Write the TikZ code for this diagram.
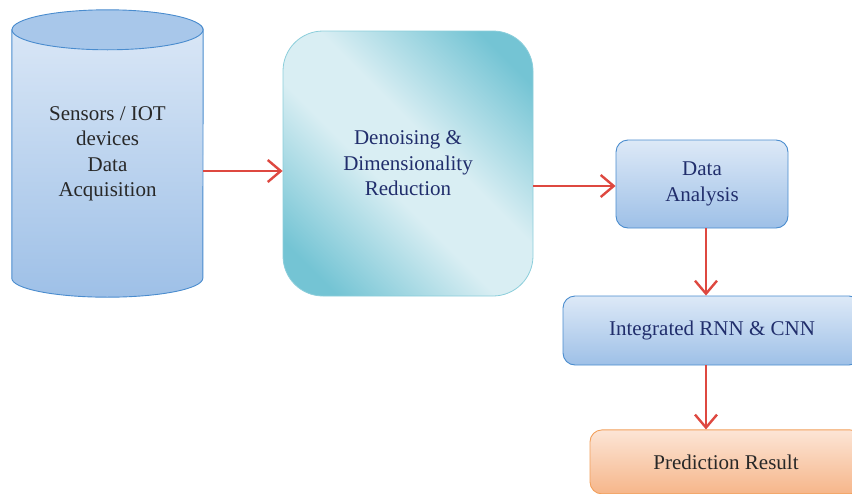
\documentclass[tikz,border=0pt]{standalone}
\usepackage{fontspec}
\setmainfont{Liberation Serif}
\usepackage{tikz}
\usetikzlibrary{positioning,arrows.meta,backgrounds}

\definecolor{flowred}{RGB}{222,72,64}
\definecolor{navytext}{RGB}{33,46,108}
\definecolor{darktext}{RGB}{40,40,40}
\definecolor{blueedge}{RGB}{74,140,206}
\definecolor{bluetop}{RGB}{221,233,247}
\definecolor{bluebot}{RGB}{158,192,231}
\definecolor{bluecap}{RGB}{168,199,234}
\definecolor{tealedge}{RGB}{140,206,219}
\definecolor{tealdark}{RGB}{116,196,212}
\definecolor{teallight}{RGB}{217,238,243}
\definecolor{orangeedge}{RGB}{242,160,92}
\definecolor{orangetop}{RGB}{252,229,214}
\definecolor{orangebot}{RGB}{246,182,138}

\pgfdeclarehorizontalshading{tealband}{100bp}{color(0bp)=(tealdark); color(22bp)=(tealdark); color(44bp)=(teallight); color(56bp)=(teallight); color(78bp)=(tealdark); color(100bp)=(tealdark)}

\tikzset{
  lbl/.style={font=\fontsize{21}{25.5}\selectfont, align=center},
  cylbody/.style={lbl, text=darktext, minimum width=191pt, minimum height=248pt, inner sep=0pt},
  tealbox/.style={lbl, text=navytext, draw=tealedge, line width=0.8pt, shading=tealband, shading angle=45, rounded corners=40pt, inner sep=0pt},
  bluebox/.style={lbl, text=navytext, draw=blueedge, line width=0.9pt, top color=bluetop, bottom color=bluebot, rounded corners=12pt, inner sep=0pt},
  orangebox/.style={lbl, text=darktext, draw=orangeedge, line width=0.9pt, top color=orangetop, bottom color=orangebot, rounded corners=12pt, inner sep=0pt},
  flow/.style={draw=flowred, line width=2.4pt, -{Straight Barb[length=13pt,width=22pt,line width=2.4pt]}}
}

\begin{document}
\begin{tikzpicture}[x=1pt,y=1pt]
  \useasboundingbox (0,0) rectangle (852,-493);
  \clip (0,0) rectangle (852,-493);

  % Define nodes
  \node[cylbody] (sensors) at (107.5,-154) {Sensors / IOT\\devices\\Data\\Acquisition};
  \node[tealbox, minimum width=250pt, minimum height=265pt] (denoise) at (408,-163.5) {Denoising \&\\Dimensionality\\Reduction};
  \node[bluebox, minimum width=172pt, minimum height=88pt] (analysis) at (702,-184) {Data\\Analysis};
  \node[bluebox, minimum width=298pt, minimum height=69pt] (rnncnn) at (712,-330.5) {Integrated RNN \& CNN};
  \node[orangebox, minimum width=272pt, minimum height=64pt, below=64pt of rnncnn, xshift=14pt] (result) {Prediction Result};

  % Cylinder behind the sensors text
  \begin{scope}[on background layer]
    \draw[blueedge, line width=0.9pt, top color=bluetop, bottom color=bluebot]
      (sensors.north west) -- (sensors.south west)
      arc[start angle=180, end angle=360, x radius=95.5, y radius=19]
      -- (sensors.north east)
      arc[start angle=0, end angle=180, x radius=95.5, y radius=19] -- cycle;
    \draw[blueedge, line width=0.9pt, fill=bluecap] (sensors.north) ellipse[x radius=95.5, y radius=20];
  \end{scope}

  % Connect the nodes
  \coordinate (s1) at ([yshift=-17pt]sensors.east);
  \coordinate (d1) at ([yshift=-22.5pt]denoise.east);
  \coordinate (a1) at ([xshift=4pt]analysis.south);
  \coordinate (r1) at ([xshift=-6pt]rnncnn.south);
  \draw[flow] (s1) -- (denoise.west |- s1);
  \draw[flow] (d1) -- (analysis.west |- d1);
  \draw[flow] (a1) -- (a1 |- rnncnn.north);
  \draw[flow] (r1) -- (r1 |- result.north);
\end{tikzpicture}
\end{document}
